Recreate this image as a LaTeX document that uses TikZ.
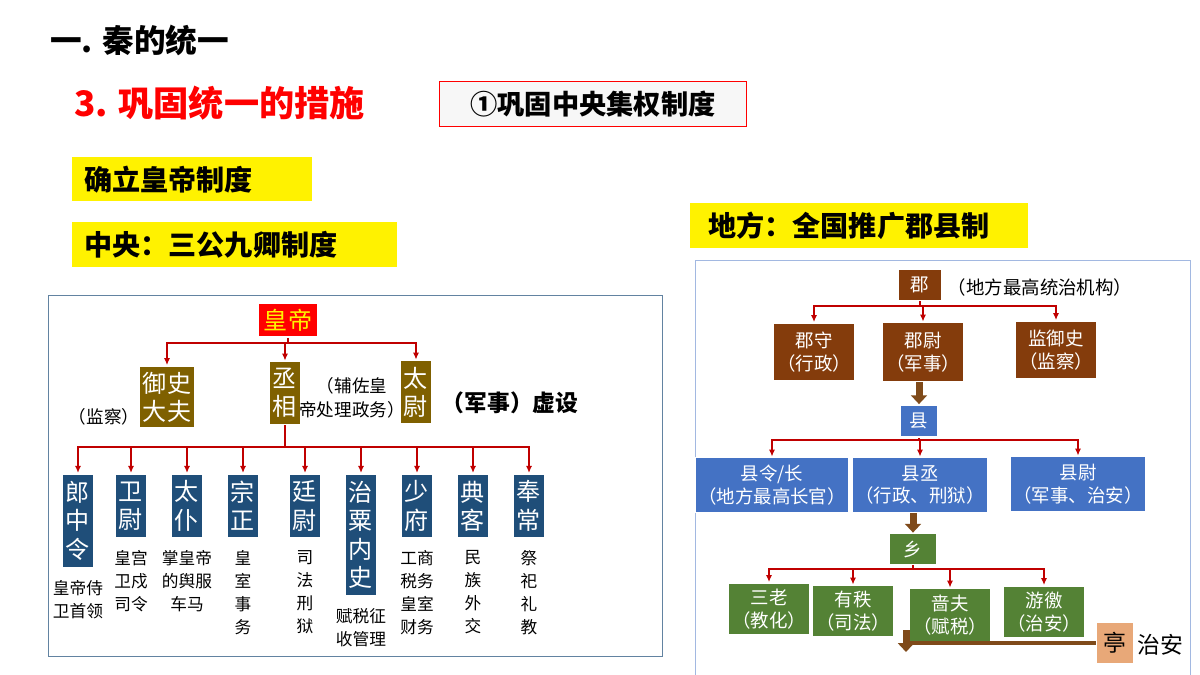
\documentclass[tikz,border=0pt]{standalone}
\usepackage{fontspec}
\setmainfont{Noto Sans CJK SC}
\usetikzlibrary{arrows.meta}
\newlength\upx
\setlength\upx{0.02cm}
\definecolor{olivebox}{HTML}{7F6000}
\definecolor{navybox}{HTML}{1F4E79}
\definecolor{rustbox}{HTML}{843C0C}
\definecolor{bluebox}{HTML}{4472C4}
\definecolor{greenbox}{HTML}{548235}
\definecolor{peachbox}{HTML}{E8A878}
\definecolor{linered}{HTML}{C00000}
\definecolor{thickbrown}{HTML}{7F4A1A}
\begin{document}
\begin{tikzpicture}[x=0.02cm,y=-0.02cm]
  \tikzstyle{hilite}=[fill=yellow,anchor=north west,inner xsep=12\upx,align=left,font=\fontsize{16}{18}\selectfont\bfseries]
  \tikzstyle{vbox}=[fill=#1,draw=white,line width=1pt,text=white,minimum width=31\upx,align=center,inner sep=2pt,font=\fontsize{13.7}{16}\selectfont]
  \tikzstyle{rbox}=[fill=#1,draw=white,line width=1pt,text=white,align=center,inner sep=2pt,font=\fontsize{10.5}{13}\selectfont]
  \tikzstyle{note}=[align=center,font=\fontsize{9.5}{13.2}\selectfont,anchor=north]
  \tikzstyle{arr}=[draw=linered,thick,-{Latex[length=4pt,width=3.5pt]}]
  \tikzstyle{bigarr}=[draw=thickbrown,line width=7\upx,-{Triangle[length=5pt,width=9pt]}]
  \useasboundingbox (0,0) rectangle (1200,675);
  \fill[white] (0,0) rectangle (1200,675);
  % headings
  \node[anchor=west,font=\fontsize{18}{20}\selectfont\bfseries] (ttl) at (44,40) {一. 秦的统一};
  \node[anchor=west,text=red,font=\fontsize{20}{22}\selectfont\bfseries] (sub) at (68,103) {3. 巩固统一的措施};
  \node[draw=red,fill=gray!6,minimum width=307\upx,minimum height=45\upx,font=\fontsize{15.5}{17}\selectfont\bfseries] (cen) at (593,104) {①巩固中央集权制度};
  \node[hilite,text width=216\upx,minimum height=44\upx] (emp) at (72,157) {确立皇帝制度};
  \node[hilite,text width=301\upx,minimum height=45\upx] (gov) at (72,222) {中央：三公九卿制度};
  \node[hilite,text width=302\upx,minimum height=45\upx,inner xsep=18\upx] (loc) at (690,203) {地方：全国推广郡县制};
  \draw[draw=navybox!70] (48,295) rectangle (662,656);
  \draw[draw=bluebox!50] (695,260) rectangle (1190,675);
  % central government
  \node[fill=red,draw=white,line width=1pt,text=yellow,minimum width=50\upx,minimum height=34\upx,font=\fontsize{13.7}{16}\selectfont] (hd) at (288,320) {皇帝};
  \node[vbox=olivebox,minimum width=53\upx,minimum height=62\upx] (ys) at (167,397) {御史\\大夫};
  \node[vbox=olivebox,minimum height=63\upx] (cx) at (285,393) {丞\\相};
  \node[vbox=olivebox,minimum height=63\upx] (tw) at (416,392) {太\\尉};
  \node[font=\fontsize{10}{12}\selectfont] (jc) at (104,417) {（监察）};
  \node[align=center,font=\fontsize{10}{13.5}\selectfont] (fz) at (352,398) {（辅佐皇\\帝处理政务）};
  \node[font=\fontsize{13}{15}\selectfont\bfseries] (js) at (510,403) {（军事）虚设};
  \coordinate (bus1) at (288,343);
  \draw[draw=linered,thick] (hd.south) -- (hd.south|-bus1);
  \draw[arr] (hd.south|-bus1) -| (ys.north);
  \draw[arr] (hd.south|-bus1) -| (cx.north);
  \draw[arr] (hd.south|-bus1) -| (tw.north);
  \coordinate (bus2) at (289,447);
  \draw[draw=linered,thick] (cx.south) -- (cx.south|-bus2);
  \foreach \name/\x/\txt/\h/\desc in {
      lzl/78/郎\\中\\令/94/皇帝侍\\卫首领,
      ww/131/卫\\尉/64/皇宫\\卫戍\\司令,
      tp/187/太\\仆/64/掌皇帝\\的舆服\\车马,
      zz/243/宗\\正/64/皇\\室\\事\\务,
      tww/305/廷\\尉/64/司\\法\\刑\\狱,
      zs/361/治\\粟\\内\\史/122/赋税征\\收管理,
      sf/417/少\\府/64/工商\\税务\\皇室\\财务,
      dk/473/典\\客/64/民\\族\\外\\交,
      fc/529/奉\\常/64/祭\\祀\\礼\\教}{
    \node[vbox=navybox,anchor=north,minimum height=\h\upx] (\name) at (\x,473) {\txt};
    \draw[arr] (cx.south|-bus2) -| (\name.north);
    \node[note] (\name-d) at (\name.south) [yshift=-3pt] {\desc};
  }
  % local government
  \node[rbox=rustbox,minimum width=44\upx,minimum height=31\upx] (jun) at (920,285) {郡};
  \node[font=\fontsize{10.5}{13}\selectfont] (jg) at (1040,287) {（地方最高统治机构）};
  \node[rbox=rustbox,minimum width=64\upx,minimum height=58\upx] (js1) at (814,352) {郡守\\（行政）};
  \node[rbox=rustbox,minimum width=60\upx,minimum height=59\upx] (jw) at (923,352) {郡尉\\（军事）};
  \node[rbox=rustbox,minimum width=76\upx,minimum height=58\upx] (jy) at (1056,350) {监御史\\（监察）};
  \coordinate (bus3) at (920,306);
  \draw[draw=linered,thick] (jun.south) -- (jun.south|-bus3);
  \draw[arr] (jun.south|-bus3) -| (js1.north);
  \draw[arr] (jun.south|-bus3) -| (jw.north);
  \draw[arr] (jun.south|-bus3) -| (jy.north);
  \node[rbox=bluebox,minimum width=38\upx,minimum height=32\upx] (xian) at (919,421) {县};
  \draw[bigarr] (jw.south-|xian.north) -- (xian.north);
  \node[rbox=bluebox,minimum width=141\upx,minimum height=55\upx] (xl) at (772,485) {县令/长\\（地方最高长官）};
  \node[rbox=bluebox,minimum width=109\upx,minimum height=55\upx] (xc) at (920,485) {县丞\\（行政、刑狱）};
  \node[rbox=bluebox,minimum width=121\upx,minimum height=55\upx] (xw) at (1078,484) {县尉\\（军事、治安）};
  \coordinate (bus4) at (919,440);
  \draw[draw=linered,thick] (xian.south) -- (xian.south|-bus4);
  \draw[arr] (xian.south|-bus4) -| (xl.north);
  \draw[arr] (xian.south|-bus4) -| (xc.north);
  \draw[arr] (xian.south|-bus4) -| (xw.north);
  \node[rbox=greenbox,minimum width=47\upx,minimum height=31\upx] (xiang) at (913,549) {乡};
  \draw[bigarr] (xc.south-|xiang.north) -- (xiang.north);
  \node[rbox=greenbox,minimum width=62\upx,minimum height=52\upx] (sl) at (769,609) {三老\\（教化）};
  \node[rbox=greenbox,minimum width=60\upx,minimum height=51\upx] (yz) at (853,611) {有秩\\（司法）};
  \node[rbox=greenbox,minimum width=65\upx,minimum height=53\upx] (sfu) at (950,615) {啬夫\\（赋税）};
  \node[rbox=greenbox,minimum width=72\upx,minimum height=52\upx] (yj) at (1044,612) {游徼\\（治安）};
  \coordinate (bus5) at (913,569);
  \draw[draw=linered,thick] (xiang.south) -- (xiang.south|-bus5);
  \draw[arr] (xiang.south|-bus5) -| (sl.north);
  \draw[arr] (xiang.south|-bus5) -| (yz.north);
  \draw[arr] (xiang.south|-bus5) -| (sfu.north);
  \draw[arr] (xiang.south|-bus5) -| (yj.north);
  \node[fill=peachbox,draw=white,line width=1pt,minimum width=37\upx,minimum height=41\upx,font=\fontsize{13}{15}\selectfont] (ting) at (1115,643) {亭};
  \node[font=\fontsize{13}{15}\selectfont] (za) at (1160,645) {治安};
  \coordinate (tdrop) at (906,630);
  \draw[bigarr] (tdrop) -- ++(0,22);
  \draw[draw=thickbrown,line width=2pt] (ting.west) -- (ting.west-|tdrop);
\end{tikzpicture}
\end{document}
